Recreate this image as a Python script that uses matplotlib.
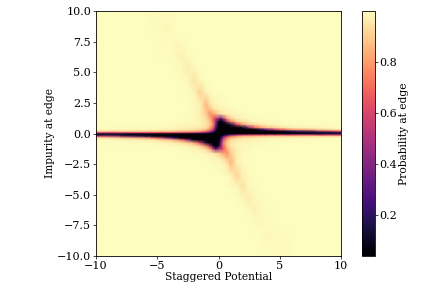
"""Edge probability map over staggered potential and edge impurity."""

import matplotlib

matplotlib.use("Agg")
import matplotlib.pyplot as plt
import numpy as np

plt.rcParams["font.family"] = "DejaVu Serif"
plt.rcParams["font.size"] = 7.7

# values; only y >= 0 is listed, the map is point symmetric
staggered = [-10, -6, -5, -4, -3.5, -3, -2.5, -2, -1.5, -1, -0.7, -0.4, -0.2, 0,
             0.2, 0.4, 0.7, 1, 1.5, 2, 2.5, 3, 3.5, 4, 5, 6, 10]
impurity = [0, 0.1, 0.2, 0.35, 0.5, 0.75, 1, 1.25, 1.6, 2, 2.4, 3.4, 4.4, 5.4, 6.4, 7.4, 8.4, 10]
probability = [
    [.15, .10, .08, .06, .05, .05, .05, .05, .05, .05, .05, .05, .05, .05, .05, .05, .05, .05, .05, .05, .05, .05, .05, .06, .08, .10, .15],
    [.60, .62, .62, .62, .62, .60, .58, .55, .50, .36, .24, .10, .05, .05, .05, .05, .05, .05, .05, .05, .05, .05, .05, .05, .06, .08, .15],
    [.92, .90, .90, .89, .88, .87, .86, .85, .80, .70, .55, .30, .08, .05, .05, .05, .05, .05, .05, .05, .05, .05, .05, .06, .09, .18, .65],
    [.995, .985, .98, .98, .97, .96, .95, .94, .92, .87, .75, .52, .16, .05, .05, .05, .05, .05, .05, .05, .05, .07, .20, .40, .68, .82, .97],
    [.998, .995, .99, .99, .985, .98, .975, .97, .96, .93, .84, .65, .25, .05, .05, .05, .05, .05, .05, .10, .45, .70, .82, .88, .94, .97, .995],
    [.998, .998, .998, .995, .99, .99, .985, .985, .98, .95, .90, .74, .36, .07, .05, .05, .05, .15, .60, .82, .90, .94, .96, .975, .99, .995, .998],
    [.998, .998, .998, .998, .998, .995, .99, .99, .98, .95, .88, .70, .42, .11, .05, .10, .50, .75, .90, .95, .97, .985, .99, .995, .998, .998, .998],
    [.998, .998, .998, .998, .998, .998, .995, .99, .97, .93, .84, .68, .52, .50, .30, .55, .82, .92, .97, .98, .99, .995, .998, .998, .998, .998, .998],
    [.998, .998, .998, .998, .998, .998, .995, .99, .97, .90, .78, .82, .87, .90, .94, .96, .97, .98, .99, .995, .998, .998, .998, .998, .998, .998, .998],
    [.998, .998, .998, .998, .998, .998, .998, .995, .975, .87, .87, .94, .96, .97, .98, .98, .99, .995, .998, .998, .998, .998, .998, .998, .998, .998, .998],
    [.998, .998, .998, .998, .998, .998, .998, .995, .97, .86, .95, .98, .985, .99, .995, .995, .998, .998, .998, .998, .998, .998, .998, .998, .998, .998, .998],
    [.998, .998, .998, .998, .998, .998, .996, .98, .91, .98, .995, .998, .998, .998, .998, .998, .998, .998, .998, .998, .998, .998, .998, .998, .998, .998, .998],
    [.998, .998, .998, .998, .998, .996, .99, .945, .99, .998, .998, .998, .998, .998, .998, .998, .998, .998, .998, .998, .998, .998, .998, .998, .998, .998, .998],
    [.998, .998, .998, .998, .996, .992, .965, .992, .998, .998, .998, .998, .998, .998, .998, .998, .998, .998, .998, .998, .998, .998, .998, .998, .998, .998, .998],
    [.998, .998, .998, .996, .992, .975, .994, .998, .998, .998, .998, .998, .998, .998, .998, .998, .998, .998, .998, .998, .998, .998, .998, .998, .998, .998, .998],
    [.998, .998, .998, .996, .985, .996, .998, .998, .998, .998, .998, .998, .998, .998, .998, .998, .998, .998, .998, .998, .998, .998, .998, .998, .998, .998, .998],
    [.998, .998, .996, .988, .997, .998, .998, .998, .998, .998, .998, .998, .998, .998, .998, .998, .998, .998, .998, .998, .998, .998, .998, .998, .998, .998, .998],
    [.998, .998, .992, .998, .998, .998, .998, .998, .998, .998, .998, .998, .998, .998, .998, .998, .998, .998, .998, .998, .998, .998, .998, .998, .998, .998, .998],
]
x_ticks = [-10, -5, 0, 5, 10]
y_ticks = [-10, -7.5, -5, -2.5, 0, 2.5, 5, 7.5, 10]
cbar_ticks = [0.2, 0.4, 0.6, 0.8]


def main() -> None:
    """Mirror the table through the origin and draw the map."""
    upper = np.asarray(probability, dtype=np.float64)
    x = np.asarray(staggered, dtype=np.float64)
    y_up = np.asarray(impurity, dtype=np.float64)
    y = np.concatenate([-y_up[:0:-1], y_up])
    z = np.vstack([upper[:0:-1, ::-1], upper])

    fig = plt.figure(figsize=(4.32, 2.90), dpi=100)
    ax = fig.add_axes([96 / 432, 1 - 256 / 290, 245 / 432, 245 / 290])
    mesh = ax.pcolormesh(x, y, z, cmap="magma", vmin=0.04, vmax=1.0, shading="gouraud")
    ax.set_xlim(-10, 10)
    ax.set_ylim(-10, 10)
    ax.set_xticks(x_ticks)
    ax.set_yticks(y_ticks)
    ax.set_xticklabels(["\u221210", "\u22125", "0", "5", "10"])
    ax.set_yticklabels(["\u221210.0", "\u22127.5", "\u22125.0", "\u22122.5", "0.0", "2.5", "5.0", "7.5", "10.0"])
    ax.tick_params(length=2, width=0.5, pad=1.5, labelsize=8)
    ax.set_xlabel("Staggered Potential", labelpad=0.5)
    ax.set_ylabel("Impurity at edge", labelpad=1.5)
    for spine in ax.spines.values():
        spine.set_linewidth(0.6)

    cax = fig.add_axes([362 / 432, 1 - 256 / 290, 12.5 / 432, 245 / 290])
    cbar = fig.colorbar(mesh, cax=cax)
    cbar.set_ticks(cbar_ticks)
    cbar.ax.tick_params(length=2, width=0.5, pad=1.5, labelsize=8)
    cbar.outline.set_linewidth(0.6)
    cbar.set_label("Probability at edge", labelpad=1.5)

    fig.savefig("out.png", dpi=100)
    plt.close(fig)


if __name__ == "__main__":
    main()
